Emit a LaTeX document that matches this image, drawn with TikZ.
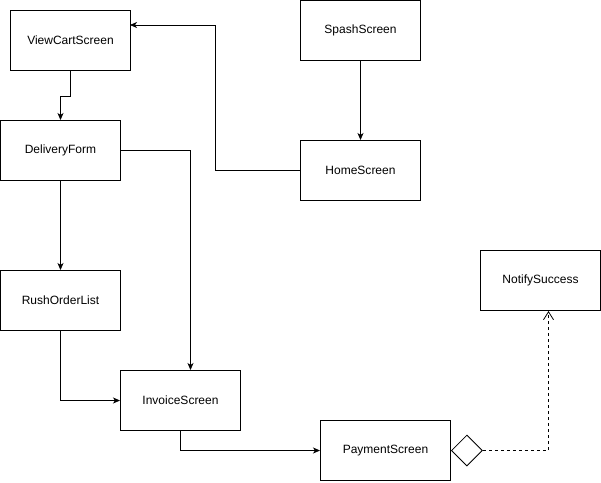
\documentclass[tikz,border=0pt]{standalone}
\usepackage{fontspec}
\setmainfont{Liberation Sans}
\usetikzlibrary{arrows.meta,shapes.geometric}
\begin{document}
\begin{tikzpicture}[x=1pt,y=-1pt,
  font=\fontsize{12}{14}\selectfont,
  screen/.style={draw,line width=1pt,minimum width=120pt,minimum height=60pt,inner sep=0pt,anchor=north west},
  flow/.style={draw,line width=0.8pt,-{Stealth[length=7pt,width=6pt,inset=2pt]}},
  dep/.style={draw,line width=0.8pt,dashed,dash pattern=on 3pt off 3pt,-{Straight Barb[length=8pt,width=10pt]}},
  agg/.style={draw,line width=0.8pt,diamond,minimum width=31pt,minimum height=31pt,inner sep=0pt,fill=white}]
\useasboundingbox (0,0) rectangle (601,482);

\node[screen] (cart) at (10,10) {ViewCartScreen};
\node[screen] (splash) at (300,0) {SpashScreen};
\node[screen] (form) at (0,120) {DeliveryForm};
\node[screen] (home) at (300,140) {HomeScreen};
\node[screen] (rush) at (0,270) {RushOrderList};
\node[screen] (notify) at (480,250) {NotifySuccess};
\node[screen] (invoice) at (120,370) {InvoiceScreen};
\node[screen,minimum width=130pt] (payment) at (320,420) {PaymentScreen};
\node[agg,anchor=west] (dia) at (payment.east) {};

\coordinate (c1) at (215,25);
\coordinate (c2) at (130,25);

\draw[flow] (splash) -- (home);
\draw[flow] (home.west) -| (c1) -- (c2);
\draw[flow] (cart.south) -- ++(0,25) -| (form.north);
\draw[flow] (form.east) -| ([xshift=10pt]invoice.north);
\draw[flow] (form) -- (rush);
\draw[flow] (rush.south) |- (invoice.west);
\draw[flow] (invoice.south) |- (payment.west);
\draw[dep] (dia.east) -| ([xshift=8pt]notify.south);
\end{tikzpicture}
\end{document}
